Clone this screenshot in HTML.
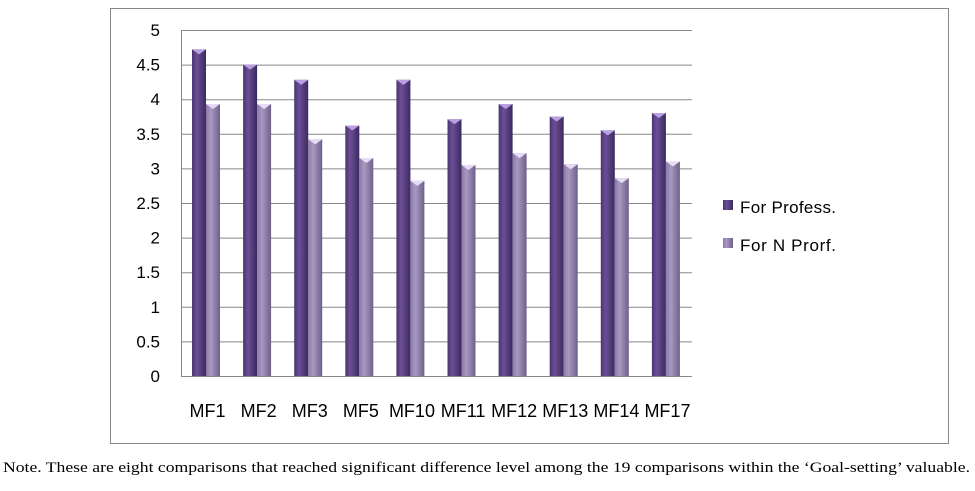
<!DOCTYPE html>
<html><head><meta charset="utf-8"><style>
body{margin:0;background:#fff;width:975px;height:486px;overflow:hidden}
svg text{font-family:"Liberation Sans",sans-serif}
</style></head><body>
<svg width="975" height="486">
<defs>
<linearGradient id="gd" x1="0" x2="1"><stop offset="0" stop-color="#4a3570"/><stop offset="0.35" stop-color="#6b4f96"/><stop offset="1" stop-color="#3c2a5e"/></linearGradient>
<linearGradient id="gl" x1="0" x2="1"><stop offset="0" stop-color="#8a7aa6"/><stop offset="0.35" stop-color="#a898c2"/><stop offset="1" stop-color="#6e6088"/></linearGradient>
</defs>
<rect x="110.5" y="8.5" width="838" height="435" fill="#fff" stroke="#888"/>
<g id="grid"></g><g id="bars"></g><g id="labels"></g>
<g>
<rect x="723" y="200" width="10" height="10" fill="url(#gd)"/>
<text x="740" y="213" font-size="17" textLength="96">For Profess.</text>
<rect x="723" y="238" width="10" height="10" fill="url(#gl)"/>
<text x="740" y="251" font-size="17" textLength="96">For N Prorf.</text>
</g>
<text x="3" y="472" font-size="15" textLength="967" lengthAdjust="spacingAndGlyphs" style="font-family:'Liberation Serif',serif">Note. These are eight comparisons that reached significant difference level among the 19 comparisons within the ‘Goal-setting’ valuable.</text>
</svg>
<script>
const categories=["MF1","MF2","MF3","MF5","MF10","MF11","MF12","MF13","MF14","MF17"];
const profess=[4.72,4.5,4.28,3.62,4.28,3.71,3.93,3.75,3.55,3.8];
const nprof=[3.93,3.93,3.42,3.15,2.82,3.05,3.22,3.06,2.86,3.1];
const ticks=[0,0.5,1,1.5,2,2.5,3,3.5,4,4.5,5];
const NS="http://www.w3.org/2000/svg";
const L=181,R=692,T=30,B=376;
const y=v=>B-(v/5)*(B-T);
const cw=(R-L)/categories.length;
const x=i=>L+i*cw;
function mk(tag,attrs,parent){const e=document.createElementNS(NS,tag);for(const k in attrs)e.setAttribute(k,attrs[k]);document.getElementById(parent).appendChild(e);return e;}
ticks.forEach(t=>{
 const g=mk('line',{x1:L,x2:R,y1:y(t)+.5,y2:y(t)+.5,stroke:'#888','stroke-width':1},'grid');
 
 
 const tx=mk('text',{x:160,y:y(t)+6,'font-size':17,'text-anchor':'end'},'labels');
 tx.textContent=t;
 
 
});
mk('line',{x1:L+.5,x2:L+.5,y1:T,y2:B,stroke:'#888'},'grid');
categories.forEach((c,i)=>{
 const bx=x(i)+11;
 [[profess[i],'url(#gd)','#b9a0e0',0],[nprof[i],'url(#gl)','#e6dcf5',14]].forEach(([v,f,cap,o],k)=>{
  const r=mk('rect',{x:bx+o,y:y(v),width:14,height:B-y(v),fill:f},'bars');
  
  
  const p=mk('polygon',{points:`${bx+o},${y(v)} ${bx+o+14},${y(v)} ${bx+o+7},${y(v)+5}`,fill:cap},'bars');
  
  
 });
 const t=mk('text',{x:x(i)+cw/2+1,y:417,'font-size':18,'text-anchor':'middle'},'labels');
 t.textContent=c;
 
 
});
</script>
</body></html>
